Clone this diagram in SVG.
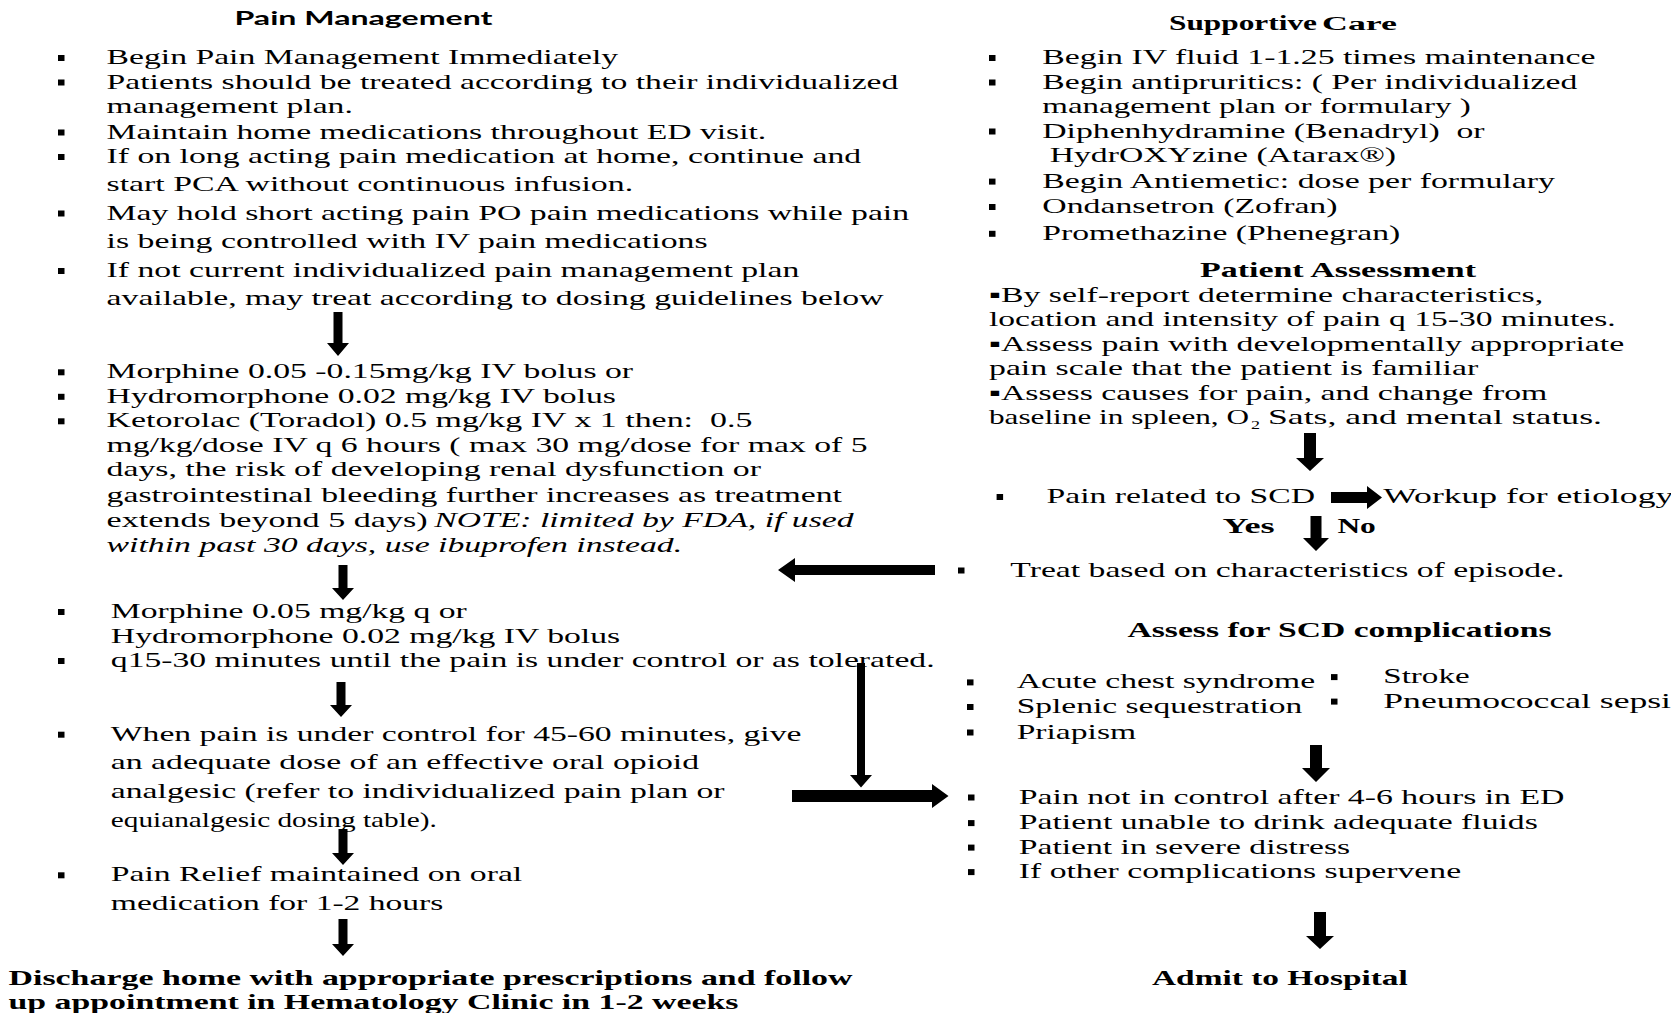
<svg xmlns="http://www.w3.org/2000/svg" width="1671" height="1013" viewBox="0 0 1671 1013">
<style>
text{font-family:"Liberation Serif","Times New Roman",serif;font-size:21px;fill:#000;white-space:pre}
.b{font-weight:bold}
.i{font-style:italic}
.h{font-family:Lato,"Liberation Sans",sans-serif;font-weight:bold;font-size:18.5px}
.bl{fill:#000}
.ar{fill:#000;stroke:none}
</style>
<defs>
<rect id="bu" width="6.5" height="6" class="bl"/>
</defs>
<rect width="1671" height="1013" fill="#fff"/>

<g id="pain-management">
<text class="h" x="234.5" y="25" textLength="258" lengthAdjust="spacingAndGlyphs">Pain Management</text>
<use href="#bu" x="58" y="55"/>
<use href="#bu" x="58" y="79.5"/>
<use href="#bu" x="58" y="129.5"/>
<use href="#bu" x="58" y="154"/>
<use href="#bu" x="58" y="210.5"/>
<use href="#bu" x="58" y="268"/>
<text x="106.6" y="64" textLength="511.5" lengthAdjust="spacingAndGlyphs">Begin Pain Management Immediately</text>
<text x="106.6" y="88.5" textLength="791.8" lengthAdjust="spacingAndGlyphs">Patients should be treated according to their individualized</text>
<text x="106.6" y="113" textLength="246.2" lengthAdjust="spacingAndGlyphs">management plan.</text>
<text x="106.6" y="138.5" textLength="659.7" lengthAdjust="spacingAndGlyphs">Maintain home medications throughout ED visit.</text>
<text x="106.6" y="163" textLength="754.5" lengthAdjust="spacingAndGlyphs">If on long acting pain medication at home, continue and</text>
<text x="106.6" y="191" textLength="526.5" lengthAdjust="spacingAndGlyphs">start PCA without continuous infusion.</text>
<text x="106.6" y="219.5" textLength="802.5" lengthAdjust="spacingAndGlyphs">May hold short acting pain PO pain medications while pain</text>
<text x="106.6" y="248.3" textLength="601" lengthAdjust="spacingAndGlyphs">is being controlled with IV pain medications</text>
<text x="106.6" y="277" textLength="692.7" lengthAdjust="spacingAndGlyphs">If not current individualized pain management plan</text>
<text x="106.6" y="304.8" textLength="776.9" lengthAdjust="spacingAndGlyphs">available, may treat according to dosing guidelines below</text>
</g>

<g id="dosing">
<use href="#bu" x="58" y="369.3"/>
<use href="#bu" x="58" y="393.8"/>
<use href="#bu" x="58" y="418.3"/>
<text x="106.6" y="378.3" textLength="526.5" lengthAdjust="spacingAndGlyphs">Morphine 0.05 -0.15mg/kg IV bolus or</text>
<text x="106.6" y="402.8" textLength="509.4" lengthAdjust="spacingAndGlyphs">Hydromorphone 0.02 mg/kg IV bolus</text>
<text x="106.6" y="427.3" textLength="645.8" lengthAdjust="spacingAndGlyphs">Ketorolac (Toradol) 0.5 mg/kg IV x 1 then:  0.5</text>
<text x="106.6" y="451.9" textLength="760.9" lengthAdjust="spacingAndGlyphs">mg/kg/dose IV q 6 hours ( max 30 mg/dose for max of 5</text>
<text x="106.6" y="476.4" textLength="654.3" lengthAdjust="spacingAndGlyphs">days, the risk of developing renal dysfunction or</text>
<text x="106.6" y="502" textLength="735.3" lengthAdjust="spacingAndGlyphs">gastrointestinal bleeding further increases as treatment</text>
<text x="106.6" y="526.5" textLength="321" lengthAdjust="spacingAndGlyphs">extends beyond 5 days)</text>
<text class="i" x="434.2" y="526.5" textLength="419.4" lengthAdjust="spacingAndGlyphs">NOTE: limited by FDA, if used</text>
<text class="i" x="106.6" y="552" textLength="575.5" lengthAdjust="spacingAndGlyphs">within past 30 days, use ibuprofen instead.</text>
</g>

<g id="repeat-dose">
<use href="#bu" x="58" y="609"/>
<use href="#bu" x="58" y="658"/>
<text x="110.8" y="618" textLength="356" lengthAdjust="spacingAndGlyphs">Morphine 0.05 mg/kg q or</text>
<text x="110.8" y="642.6" textLength="509.4" lengthAdjust="spacingAndGlyphs">Hydromorphone 0.02 mg/kg IV bolus</text>
<text x="110.8" y="667" textLength="823.8" lengthAdjust="spacingAndGlyphs">q15-30 minutes until the pain is under control or as tolerated.</text>
</g>

<g id="oral-opioid">
<use href="#bu" x="58" y="731.7"/>
<text x="110.8" y="740.7" textLength="690.6" lengthAdjust="spacingAndGlyphs">When pain is under control for 45-60 minutes, give</text>
<text x="110.8" y="769.4" textLength="588.3" lengthAdjust="spacingAndGlyphs">an adequate dose of an effective oral opioid</text>
<text x="110.8" y="798.2" textLength="613.8" lengthAdjust="spacingAndGlyphs">analgesic (refer to individualized pain plan or</text>
<text x="110.8" y="827" textLength="326.1" lengthAdjust="spacingAndGlyphs">equianalgesic dosing table).</text>
</g>

<g id="pain-relief">
<use href="#bu" x="58" y="872.3"/>
<text x="110.8" y="881.3" textLength="411.4" lengthAdjust="spacingAndGlyphs">Pain Relief maintained on oral</text>
<text x="110.8" y="910" textLength="332.5" lengthAdjust="spacingAndGlyphs">medication for 1-2 hours</text>
</g>

<g id="discharge">
<text class="b" x="8.5" y="984.7" textLength="844" lengthAdjust="spacingAndGlyphs">Discharge home with appropriate prescriptions and follow</text>
<text class="b" x="8.5" y="1009.2" textLength="730" lengthAdjust="spacingAndGlyphs">up appointment in Hematology Clinic in 1-2 weeks</text>
</g>

<g id="supportive-care">
<text class="b" x="1169" y="30" textLength="148" lengthAdjust="spacingAndGlyphs">Supportive</text>
<text class="b" x="1322" y="30" style="font-size:18px" textLength="75" lengthAdjust="spacingAndGlyphs">Care</text>
<use href="#bu" x="989" y="55"/>
<use href="#bu" x="989" y="79.5"/>
<use href="#bu" x="989" y="128.5"/>
<use href="#bu" x="989" y="178.6"/>
<use href="#bu" x="989" y="204"/>
<use href="#bu" x="989" y="230.8"/>
<text x="1042.3" y="64" textLength="553.1" lengthAdjust="spacingAndGlyphs">Begin IV fluid 1-1.25 times maintenance</text>
<text x="1042.3" y="88.5" textLength="535" lengthAdjust="spacingAndGlyphs">Begin antipruritics: ( Per individualized</text>
<text x="1042.3" y="113" textLength="428.4" lengthAdjust="spacingAndGlyphs">management plan or formulary )</text>
<text x="1042.3" y="137.5" textLength="442.3" lengthAdjust="spacingAndGlyphs">Diphenhydramine (Benadryl)  or</text>
<text x="1049.7" y="162" textLength="346.4" lengthAdjust="spacingAndGlyphs">HydrOXYzine (Atarax®)</text>
<text x="1042.3" y="187.6" textLength="512.6" lengthAdjust="spacingAndGlyphs">Begin Antiemetic: dose per formulary</text>
<text x="1042.3" y="213" textLength="295.2" lengthAdjust="spacingAndGlyphs">Ondansetron (Zofran)</text>
<text x="1042.3" y="239.8" textLength="358" lengthAdjust="spacingAndGlyphs">Promethazine (Phenegran)</text>
</g>

<g id="patient-assessment">
<text class="b" x="1200" y="277" textLength="276" lengthAdjust="spacingAndGlyphs">Patient Assessment</text>
<text x="989" y="301.6" textLength="554.2" lengthAdjust="spacingAndGlyphs">▪By self-report determine characteristics,</text>
<text x="989" y="326.1" textLength="626.6" lengthAdjust="spacingAndGlyphs">location and intensity of pain q 15-30 minutes.</text>
<text x="989" y="350.6" textLength="635.2" lengthAdjust="spacingAndGlyphs">▪Assess pain with developmentally appropriate</text>
<text x="989" y="375.1" textLength="489.2" lengthAdjust="spacingAndGlyphs">pain scale that the patient is familiar</text>
<text x="989" y="399.6" textLength="558.4" lengthAdjust="spacingAndGlyphs">▪Assess causes for pain, and change from</text>
<text x="989" y="424.1" textLength="260" lengthAdjust="spacingAndGlyphs">baseline in spleen, O</text>
<text x="1251" y="428.5" style="font-size:13px" textLength="9" lengthAdjust="spacingAndGlyphs">2</text>
<text x="1268" y="424.1" textLength="334" lengthAdjust="spacingAndGlyphs">Sats, and mental status.</text>
</g>

<g id="pain-related">
<use href="#bu" x="996.6" y="494"/>
<text x="1046.5" y="503" textLength="268.6" lengthAdjust="spacingAndGlyphs">Pain related to SCD</text>
</g>

<g id="workup">
<text x="1383.3" y="503" textLength="290" lengthAdjust="spacingAndGlyphs">Workup for etiology</text>
</g>

<g id="labels">
<text class="b" x="1222.4" y="532.9" textLength="52.2" lengthAdjust="spacingAndGlyphs">Yes</text>
<text class="b" x="1337.4" y="532.9" textLength="38.4" lengthAdjust="spacingAndGlyphs">No</text>
</g>

<g id="treat">
<use href="#bu" x="958" y="567.5"/>
<text x="1010.3" y="576.5" textLength="554.2" lengthAdjust="spacingAndGlyphs">Treat based on characteristics of episode.</text>
</g>

<g id="complications">
<text class="b" x="1127.5" y="637.3" textLength="424.1" lengthAdjust="spacingAndGlyphs">Assess for SCD complications</text>
<use href="#bu" x="967" y="679.4"/>
<use href="#bu" x="967" y="704"/>
<use href="#bu" x="967" y="729.5"/>
<use href="#bu" x="1331" y="674.1"/>
<use href="#bu" x="1331" y="698.6"/>
<text x="1016.7" y="688.4" textLength="298.4" lengthAdjust="spacingAndGlyphs">Acute chest syndrome</text>
<text x="1016.7" y="713" textLength="285.6" lengthAdjust="spacingAndGlyphs">Splenic sequestration</text>
<text x="1016.7" y="738.5" textLength="119.4" lengthAdjust="spacingAndGlyphs">Priapism</text>
<text x="1383.3" y="683.1" textLength="86.3" lengthAdjust="spacingAndGlyphs">Stroke</text>
<text x="1383.3" y="707.6" textLength="287.7" lengthAdjust="spacingAndGlyphs">Pneumococcal sepsi</text>
</g>

<g id="admit-criteria">
<use href="#bu" x="968" y="794.5"/>
<use href="#bu" x="968" y="820.1"/>
<use href="#bu" x="968" y="844.6"/>
<use href="#bu" x="968" y="869.1"/>
<text x="1018.8" y="803.5" textLength="545.6" lengthAdjust="spacingAndGlyphs">Pain not in control after 4-6 hours in ED</text>
<text x="1018.8" y="829.1" textLength="519" lengthAdjust="spacingAndGlyphs">Patient unable to drink adequate fluids</text>
<text x="1018.8" y="853.6" textLength="331.4" lengthAdjust="spacingAndGlyphs">Patient in severe distress</text>
<text x="1018.8" y="878.1" textLength="442.3" lengthAdjust="spacingAndGlyphs">If other complications supervene</text>
</g>

<g id="admit">
<text class="b" x="1152" y="984.7" textLength="255.8" lengthAdjust="spacingAndGlyphs">Admit to Hospital</text>
</g>

<g id="connectors">
<polygon class="ar" points="333.5,312 342.5,312 342.5,343 349,343 338,356 327,343 333.5,343"/>
<polygon class="ar" points="338.5,565 347.5,565 347.5,588 354,588 343,600 332,588 338.5,588"/>
<polygon class="ar" points="336.5,682 345.5,682 345.5,705 352,705 341,717 330,705 336.5,705"/>
<polygon class="ar" points="338.5,829 347.5,829 347.5,853 354,853 343,865 332,853 338.5,853"/>
<polygon class="ar" points="338.5,919 347.5,919 347.5,944 354,944 343,956 332,944 338.5,944"/>
<polygon class="ar" points="935,565 935,575 795,575 795,582 778,570 795,558 795,565"/>
<polygon class="ar" points="857,663 865,663 865,775 872,775 861,787.5 850,775 857,775"/>
<polygon class="ar" points="792,790 932,790 932,784 948.5,796 932,808 932,802 792,802"/>
<polygon class="ar" points="1304,433 1316,433 1316,458 1324,458 1310,471 1296,458 1304,458"/>
<polygon class="ar" points="1331,492 1367,492 1367,486 1382,497.5 1367,509 1367,503 1331,503"/>
<polygon class="ar" points="1310.5,516 1321.5,516 1321.5,538 1329,538 1316,551 1303,538 1310.5,538"/>
<polygon class="ar" points="1310,745 1322,745 1322,768 1330,768 1316,782 1302,768 1310,768"/>
<polygon class="ar" points="1314,912 1326,912 1326,936 1334,936 1320,949 1306,936 1314,936"/>
</g>
</svg>
